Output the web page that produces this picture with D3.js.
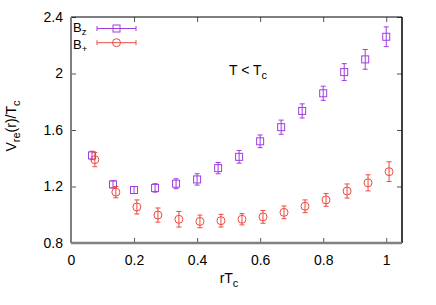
<!DOCTYPE html>
<html>
<head>
<meta charset="utf-8">
<script src="https://cdn.jsdelivr.net/npm/d3@7"></script>
<style>
  body { margin: 0; background: #fff; }
  text { font-family: "Liberation Sans", Arial, sans-serif; }
</style>
</head>
<body>
<script>
// data
const rValues = [0.0667, 0.1333, 0.2, 0.2667, 0.3333, 0.4, 0.4667, 0.5333, 0.6, 0.6667, 0.7333, 0.8, 0.8667, 0.9333, 1.0];
const bzValues = [1.42, 1.215, 1.175, 1.19, 1.22, 1.25, 1.33, 1.41, 1.52, 1.62, 1.735, 1.86, 2.01, 2.10, 2.26];
const bzErrors = [0.03, 0.025, 0.025, 0.03, 0.035, 0.04, 0.04, 0.045, 0.045, 0.05, 0.05, 0.05, 0.06, 0.07, 0.07];
const bpValues = [1.39, 1.16, 1.055, 0.998, 0.968, 0.953, 0.958, 0.968, 0.985, 1.017, 1.06, 1.105, 1.168, 1.226, 1.305];
const bpErrors = [0.05, 0.04, 0.05, 0.05, 0.055, 0.045, 0.045, 0.04, 0.045, 0.045, 0.045, 0.045, 0.05, 0.057, 0.07];
const xTicks = [0, 0.2, 0.4, 0.6, 0.8, 1];
const yTicks = [0.8, 1.2, 1.6, 2, 2.4];

const W = 436, H = 305;
const margin = { top: 17, right: 34, bottom: 62, left: 71 };
const width = W - margin.left - margin.right;
const height = H - margin.top - margin.bottom;

const purple = '#a03de0';
const red = '#ee4a40';

const svg = d3.select('body').append('svg')
    .attr('width', W)
    .attr('height', H);

const g = svg.append('g')
    .attr('transform', `translate(${margin.left}, ${margin.top})`);

const x = d3.scaleLinear().domain([0, 1.05]).range([0, width]);
const y = d3.scaleLinear().domain([0.8, 2.4]).range([height, 0]);

// bottom axis
g.append('g')
    .attr('transform', `translate(0, ${height})`)
    .call(d3.axisBottom(x).tickValues(xTicks).tickSize(-5).tickPadding(12).tickFormat(d3.format('')));
// left axis
g.append('g')
    .call(d3.axisLeft(y).tickValues(yTicks).tickSize(-5).tickPadding(8).tickFormat(d3.format('')));
// top & right ticks
g.append('g')
    .call(d3.axisTop(x).tickValues(xTicks).tickSize(-5).tickFormat(''));
g.append('g')
    .attr('transform', `translate(${width}, 0)`)
    .call(d3.axisRight(y).tickValues(yTicks).tickSize(-5).tickFormat(''));

g.selectAll('.domain').remove();
g.selectAll('.tick line').attr('stroke', '#555').attr('stroke-width', 1);
g.selectAll('.tick text')
    .attr('fill', '#000')
    .style('font-size', '14px')
    .style('font-family', '"Liberation Sans", Arial, sans-serif');

// frame: top and right black, left and bottom grey
g.append('line').attr('x1', 0).attr('x2', width).attr('y1', 0).attr('y2', 0)
    .attr('stroke', '#000').attr('stroke-width', 1.2);
g.append('line').attr('x1', width).attr('x2', width).attr('y1', 0).attr('y2', height)
    .attr('stroke', '#000').attr('stroke-width', 1.5);
g.append('line').attr('x1', 0).attr('x2', 0).attr('y1', 0).attr('y2', height)
    .attr('stroke', '#808080').attr('stroke-width', 2);
g.append('line').attr('x1', 0).attr('x2', width).attr('y1', height).attr('y2', height)
    .attr('stroke', '#808080').attr('stroke-width', 2.5);

function drawSeries(vals, errs, color, shape, dx) {
    const data = rValues.map((r, i) => ({ r: r + dx, v: vals[i], e: errs[i] }));
    const s = g.append('g');
    const cap = 2.5;
    data.forEach(d => {
        const cx = x(d.r);
        const y0 = y(d.v - d.e), y1 = y(d.v + d.e);
        s.append('line').attr('x1', cx).attr('x2', cx).attr('y1', y0).attr('y2', y1)
            .attr('stroke', color).attr('stroke-width', 1);
        s.append('line').attr('x1', cx - cap).attr('x2', cx + cap).attr('y1', y0).attr('y2', y0)
            .attr('stroke', color).attr('stroke-width', 1);
        s.append('line').attr('x1', cx - cap).attr('x2', cx + cap).attr('y1', y1).attr('y2', y1)
            .attr('stroke', color).attr('stroke-width', 1);
        drawMarker(s, shape, cx, y(d.v), color);
    });
}

function drawMarker(sel, shape, cx, cy, color) {
    if (shape === 'square') {
        sel.append('rect').attr('x', cx - 3.5).attr('y', cy - 3.5)
            .attr('width', 7).attr('height', 7)
            .attr('fill', 'none').attr('stroke', color).attr('stroke-width', 1);
    } else {
        sel.append('circle').attr('cx', cx).attr('cy', cy).attr('r', 4)
            .attr('fill', 'none').attr('stroke', color).attr('stroke-width', 1);
    }
}

drawSeries(bzValues, bzErrors, purple, 'square', 0);
drawSeries(bpValues, bpErrors, red, 'circle', 0.009);

// legend
const legend = svg.append('g');
const legendItems = [
    { sub: 'z', color: purple, shape: 'square', y: 28.5, base: 31.5 },
    { sub: '+', color: red, shape: 'circle', y: 42.7, base: 48.5 }
];
legendItems.forEach(d => {
    const t = legend.append('text').attr('x', 73).attr('y', d.base)
        .style('font-size', '13px').attr('fill', '#000');
    t.append('tspan').text('B');
    t.append('tspan').attr('dy', 3).style('font-size', '9.5px').text(d.sub);
    legend.append('line').attr('x1', 97).attr('x2', 136).attr('y1', d.y).attr('y2', d.y)
        .attr('stroke', d.color).attr('stroke-width', 1);
    [97, 136].forEach(px => legend.append('line').attr('x1', px).attr('x2', px)
        .attr('y1', d.y - 2.5).attr('y2', d.y + 2.5).attr('stroke', d.color).attr('stroke-width', 1));
    drawMarker(legend, d.shape, 116.5, d.y, d.color);
});

// annotation
const ann = svg.append('text').attr('x', 229).attr('y', 75)
    .style('font-size', '14px').attr('fill', '#000');
ann.append('tspan').text('T < T');
ann.append('tspan').attr('dy', 4).style('font-size', '11px').text('c');

// x label
const xl = svg.append('text').attr('x', 229).attr('y', 283)
    .attr('text-anchor', 'middle').style('font-size', '14px').attr('fill', '#000');
xl.append('tspan').text('rT');
xl.append('tspan').attr('dy', 4).style('font-size', '11px').text('c');

// y label
const yl = svg.append('text')
    .attr('transform', 'translate(16, 126) rotate(-90)')
    .attr('text-anchor', 'middle').style('font-size', '14px').attr('fill', '#000');
yl.append('tspan').text('V');
yl.append('tspan').attr('dy', 4).style('font-size', '11px').text('re');
yl.append('tspan').attr('dy', -4).text('(r)/T');
yl.append('tspan').attr('dy', 4).style('font-size', '11px').text('c');
</script>
</body>
</html>
